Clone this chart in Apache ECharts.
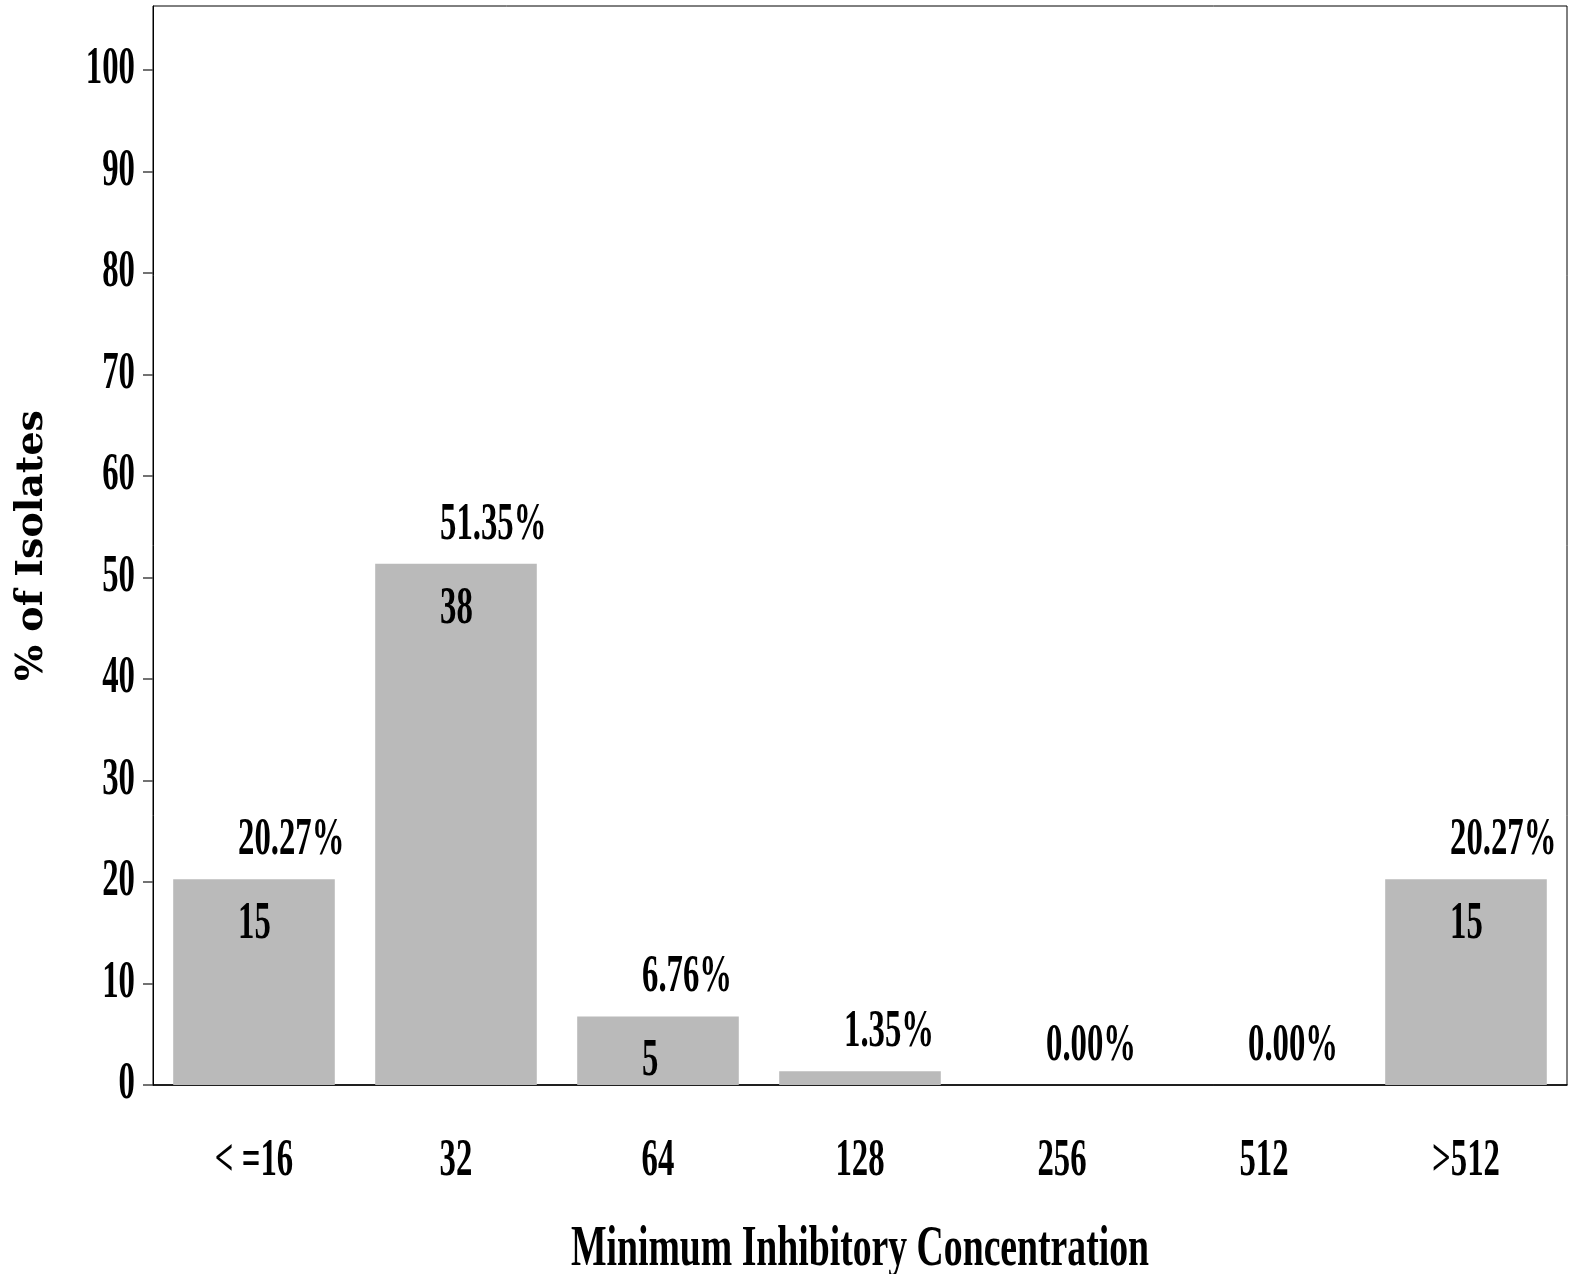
<!DOCTYPE html>
<html>
<head>
<meta charset="utf-8">
<script src="https://cdn.jsdelivr.net/npm/echarts@6/dist/echarts.min.js"></script>
<style>
  html, body { margin: 0; padding: 0; background: #fff; }
  #chart { width: 1572px; height: 1274px; }
</style>
</head>
<body>
<div id="chart"></div>
<script>
// MIC distribution of isolates
const categories = ['< =16', '32', '64', '128', '256', '512', '>512'];
const percents = [20.27, 51.35, 6.76, 1.35, 0.00, 0.00, 20.27];
const counts = [15, 38, 5, 1, 0, 0, 15];
const yTicks = [0, 10, 20, 30, 40, 50, 60, 70, 80, 90, 100];

// Narrow bold serif faces: Liberation Serif drawn with a horizontal squeeze.
// The axis-title face is squeezed a little less than the number face.
const NUM_FONT = '"Liberation Serif", serif';
const NAME_FONT = '"Liberation Serif", "Times New Roman", serif';
const TITLE_FONT = '"DejaVu Serif", serif';
const SQUEEZE = [['Times New Roman', 0.65], ['Liberation Serif', 0.63]];

(function () {
  const proto = CanvasRenderingContext2D.prototype;
  const fill = proto.fillText;
  const measure = proto.measureText;
  const squeezeOf = font => {
    for (const [face, k] of SQUEEZE) if (font.indexOf(face) >= 0) return k;
    return 1;
  };
  proto.fillText = function (text, x, y, maxWidth) {
    const k = squeezeOf(this.font);
    if (k === 1) {
      return maxWidth === undefined ? fill.call(this, text, x, y) : fill.call(this, text, x, y, maxWidth);
    }
    this.save();
    this.translate(x, y);
    this.scale(k, 1);
    fill.call(this, text, 0, 0);
    this.restore();
  };
  proto.measureText = function (text) {
    const m = measure.call(this, text);
    const k = squeezeOf(this.font);
    if (k === 1) return m;
    return {
      width: m.width * k,
      actualBoundingBoxAscent: m.actualBoundingBoxAscent,
      actualBoundingBoxDescent: m.actualBoundingBoxDescent,
      actualBoundingBoxLeft: m.actualBoundingBoxLeft * k,
      actualBoundingBoxRight: m.actualBoundingBoxRight * k,
      fontBoundingBoxAscent: m.fontBoundingBoxAscent,
      fontBoundingBoxDescent: m.fontBoundingBoxDescent
    };
  };
})();

const chart = echarts.init(document.getElementById('chart'), null, { renderer: 'canvas' });

const barData = percents.map((p, i) => ({
  value: p,
  label: { show: counts[i] >= 5 }
}));

const num = size => ({
  color: '#000', fontFamily: NUM_FONT, fontWeight: 'bold', fontSize: size
});

chart.setOption({
  animation: false,
  backgroundColor: '#ffffff',
  grid: {
    left: 153, right: 5, top: 6, bottom: 189,
    containLabel: false, outerBoundsMode: 'none',
    show: true, borderColor: '#000', borderWidth: 1, backgroundColor: 'transparent'
  },
  xAxis: {
    type: 'category',
    data: categories,
    axisLine: { lineStyle: { color: '#000', width: 1.5 } },
    axisTick: { show: false },
    axisLabel: Object.assign({ margin: 60 }, num(52)),
    name: 'Minimum Inhibitory Concentration',
    nameLocation: 'middle',
    nameGap: 146,
    nameTextStyle: { color: '#000', fontFamily: NAME_FONT, fontWeight: 'bold', fontSize: 58 }
  },
  yAxis: {
    type: 'value',
    min: 0,
    max: 106.3,
    interval: 10,
    splitLine: { show: false },
    axisLine: { show: true, lineStyle: { color: '#000', width: 1 } },
    axisTick: { show: true, length: 10, customValues: yTicks, lineStyle: { color: '#444', width: 1.5 } },
    axisLabel: Object.assign({ customValues: yTicks, margin: 18 }, num(52)),
    name: '% of Isolates',
    nameLocation: 'middle',
    nameGap: 102,
    nameTextStyle: { color: '#000', fontFamily: TITLE_FONT, fontWeight: 'bold', fontSize: 38 }
  },
  series: [
    {
      type: 'bar',
      data: barData,
      barCategoryGap: '20%',
      itemStyle: { color: '#bababa' },
      label: Object.assign({
        show: true,
        position: 'insideTop',
        distance: 29,
        align: 'left',
        offset: [-16, 0],
        formatter: p => String(counts[p.dataIndex])
      }, num(52))
    },
    {
      // percentage labels sitting above each bar
      type: 'bar',
      data: percents,
      barGap: '-100%',
      barCategoryGap: '20%',
      itemStyle: { color: 'transparent' },
      silent: true,
      label: Object.assign({
        show: true,
        position: 'top',
        distance: 22,
        align: 'left',
        offset: [-16, 0],
        formatter: p => percents[p.dataIndex].toFixed(2) + '%'
      }, num(52))
    }
  ]
});
</script>
</body>
</html>
